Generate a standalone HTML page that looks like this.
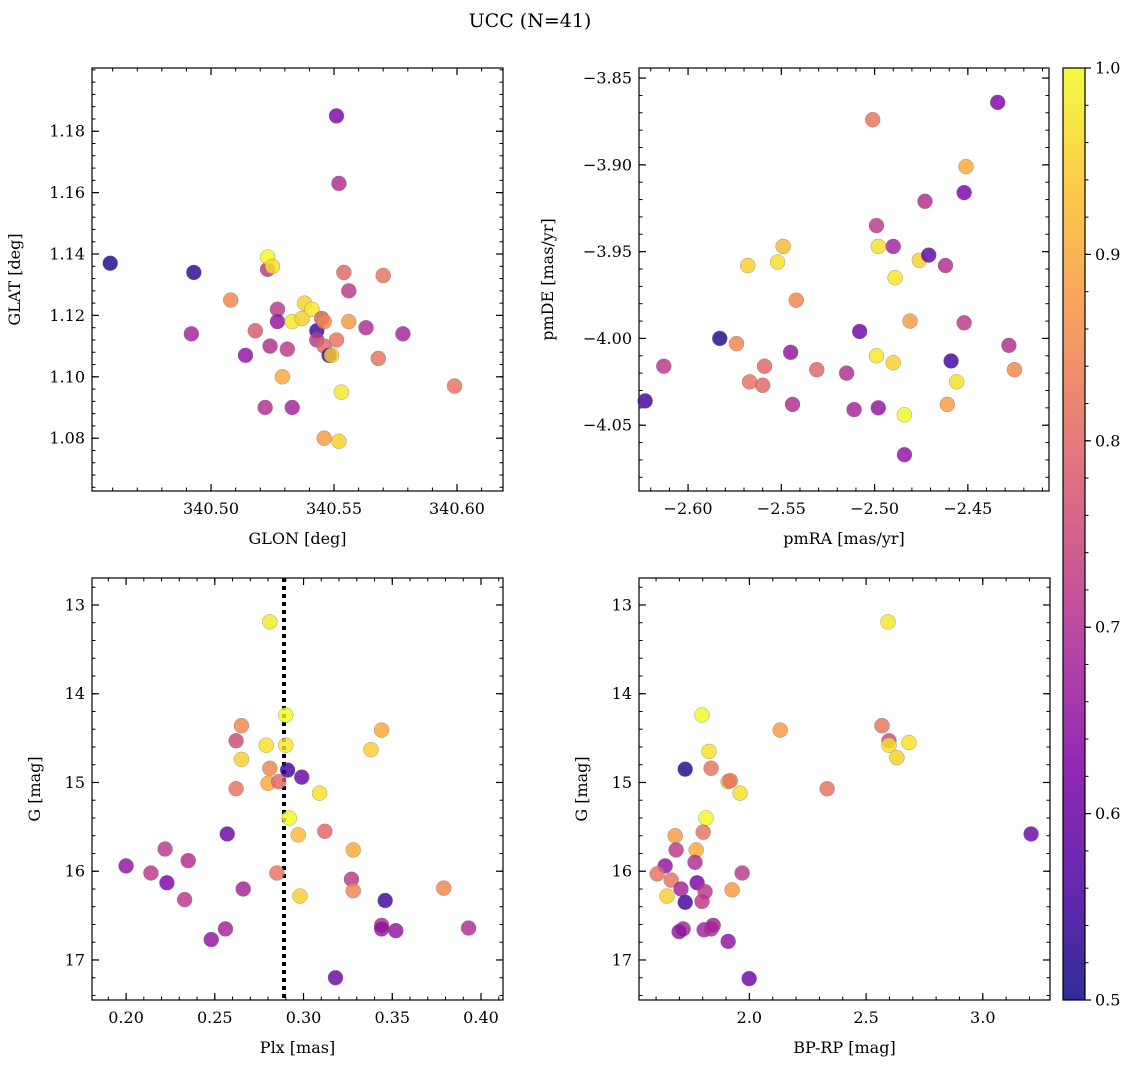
<!DOCTYPE html>
<html><head><meta charset="utf-8">
<style>
body{margin:0;background:#fff;}
svg{display:block;font-family:"DejaVu Serif","Liberation Serif",serif;}
</style></head>
<body>
<svg id="fig" width="1135" height="1068" viewBox="0 0 1135 1068" xmlns="http://www.w3.org/2000/svg">
<text x="530" y="27" font-size="19" text-anchor="middle">UCC (N=41)</text>
<defs><linearGradient id="cbgrad" x1="0" y1="1" x2="0" y2="0">
<stop offset="0" stop-color="#0d0887"/><stop offset="0.125" stop-color="#4c02a1"/><stop offset="0.25" stop-color="#7e03a8"/><stop offset="0.375" stop-color="#a92395"/><stop offset="0.5" stop-color="#cc4778"/><stop offset="0.625" stop-color="#e56b5d"/><stop offset="0.75" stop-color="#f89540"/><stop offset="0.875" stop-color="#fdc328"/><stop offset="1" stop-color="#f0f921"/></linearGradient></defs>
</svg>
<script>
// Panel 1: GLON vs GLAT
const glon=[340.459,340.493,340.492,340.508,340.514,340.518,340.522,340.523,340.523,340.525,340.524,340.527,340.527,340.529,340.531,340.533,340.533,340.537,340.538,340.541,340.543,340.543,340.545,340.546,340.546,340.548,340.549,340.546,340.551,340.552,340.551,340.552,340.553,340.554,340.556,340.556,340.563,340.568,340.570,340.578,340.599];
const glat=[1.137,1.134,1.114,1.125,1.107,1.115,1.090,1.135,1.139,1.136,1.110,1.122,1.118,1.100,1.109,1.090,1.118,1.119,1.124,1.122,1.115,1.112,1.119,1.118,1.110,1.107,1.107,1.080,1.185,1.079,1.112,1.163,1.095,1.134,1.128,1.118,1.116,1.106,1.133,1.114,1.097];
const prob1=[0.52,0.53,0.68,0.85,0.65,0.78,0.7,0.72,1.0,0.97,0.7,0.72,0.65,0.9,0.72,0.68,0.98,0.95,0.95,0.98,0.55,0.72,0.78,0.85,0.8,0.55,0.95,0.88,0.62,0.95,0.82,0.7,0.98,0.8,0.72,0.88,0.7,0.82,0.82,0.68,0.82];
// Panel 2: pmRA vs pmDE
const pmra=[-2.623,-2.613,-2.583,-2.574,-2.568,-2.567,-2.560,-2.559,-2.552,-2.549,-2.545,-2.544,-2.542,-2.531,-2.515,-2.511,-2.508,-2.501,-2.499,-2.498,-2.499,-2.498,-2.490,-2.490,-2.489,-2.484,-2.484,-2.481,-2.476,-2.473,-2.471,-2.462,-2.461,-2.459,-2.456,-2.452,-2.452,-2.451,-2.434,-2.428,-2.425];
const pmde=[-4.036,-4.016,-4.000,-4.003,-3.958,-4.025,-4.027,-4.016,-3.956,-3.947,-4.008,-4.038,-3.978,-4.018,-4.020,-4.041,-3.996,-3.874,-3.935,-3.947,-4.010,-4.040,-3.947,-4.014,-3.965,-4.044,-4.067,-3.990,-3.955,-3.921,-3.952,-3.958,-4.038,-4.013,-4.025,-3.916,-3.991,-3.901,-3.864,-4.004,-4.018];
const prob2=[0.55,0.72,0.52,0.85,0.95,0.82,0.8,0.8,0.97,0.92,0.65,0.7,0.85,0.8,0.7,0.68,0.6,0.82,0.72,0.97,0.98,0.65,0.68,0.95,0.98,1.0,0.65,0.88,0.95,0.7,0.58,0.7,0.88,0.55,0.97,0.62,0.72,0.9,0.62,0.7,0.85];
// Panel 3: Plx vs G
const plx=[0.200,0.214,0.222,0.223,0.233,0.235,0.248,0.256,0.257,0.262,0.262,0.265,0.265,0.266,0.280,0.279,0.281,0.281,0.285,0.286,0.290,0.290,0.291,0.292,0.297,0.298,0.299,0.309,0.312,0.318,0.327,0.328,0.328,0.338,0.344,0.344,0.344,0.346,0.352,0.379,0.393];
const gmag3=[15.94,16.02,15.75,16.13,16.32,15.88,16.77,16.65,15.58,14.53,15.07,14.36,14.74,16.20,15.01,14.58,13.19,14.84,16.02,14.99,14.24,14.58,14.86,15.40,15.59,16.28,14.94,15.12,15.55,17.20,16.09,16.22,15.76,14.63,14.41,16.61,16.65,16.33,16.67,16.19,16.64];
const prob3=[0.65,0.72,0.72,0.62,0.72,0.7,0.65,0.68,0.6,0.75,0.82,0.85,0.95,0.68,0.9,0.97,0.98,0.85,0.82,0.8,1.0,0.98,0.55,1.0,0.92,0.95,0.6,0.97,0.8,0.6,0.72,0.85,0.9,0.95,0.9,0.7,0.65,0.55,0.65,0.85,0.7];
const plxMean=[0.289];
// Panel 4: BP-RP vs G
const bprp=[1.797,1.827,1.725,1.836,1.909,1.918,1.960,1.814,1.802,1.682,1.686,1.772,1.767,1.639,1.605,1.665,1.776,1.969,1.707,1.810,1.926,1.647,1.725,1.797,1.716,1.699,1.806,1.836,1.845,1.909,1.999,2.132,2.333,2.568,2.598,2.594,2.598,2.632,2.684,3.207];
const gmag4=[14.24,14.65,14.85,14.84,14.99,14.98,15.12,15.40,15.56,15.60,15.76,15.76,15.90,15.94,16.03,16.10,16.13,16.02,16.20,16.23,16.21,16.28,16.35,16.34,16.65,16.68,16.66,16.65,16.61,16.79,17.21,14.41,15.07,14.36,14.53,13.19,14.58,14.72,14.55,15.58];
const prob4=[1.0,0.97,0.52,0.82,0.9,0.82,0.97,1.0,0.82,0.88,0.72,0.9,0.7,0.65,0.82,0.82,0.62,0.72,0.68,0.72,0.88,0.95,0.55,0.72,0.68,0.65,0.68,0.7,0.68,0.65,0.6,0.88,0.82,0.82,0.75,0.98,0.97,0.95,0.97,0.6];
const cbTicks=[0.5,0.6,0.7,0.8,0.9,1.0];

const NS='http://www.w3.org/2000/svg';
const svg=document.getElementById('fig');
function mk(tag,attrs,parent){const e=document.createElementNS(NS,tag);for(const k in attrs)e.setAttribute(k,attrs[k]);(parent||svg).appendChild(e);return e;}
const stops=[[0,[13,8,135]],[0.125,[76,2,161]],[0.25,[126,3,168]],[0.375,[169,35,149]],[0.5,[204,71,120]],[0.625,[229,107,93]],[0.75,[248,149,64]],[0.875,[253,195,40]],[1,[240,249,33]]];
function plasma(v){let t=(v-0.5)/0.5;t=Math.max(0,Math.min(1,t));for(let i=0;i<stops.length-1;i++){const a=stops[i],b=stops[i+1];if(t<=b[0]){const f=(t-a[0])/(b[0]-a[0]);return 'rgb('+a[1].map((c,j)=>Math.round(c+(b[1][j]-c)*f)).join(',')+')';}}return 'rgb(240,249,33)';}

function panel(o){
  const g=mk('g',{});
  
  
  const sx=v=>o.x0+(v-o.xl[0])/(o.xl[1]-o.xl[0])*(o.x1-o.x0);
  const sy=o.invertY ? (v=>o.y0+(v-o.yl[0])/(o.yl[1]-o.yl[0])*(o.y1-o.y0)) : (v=>o.y0+(o.yl[1]-v)/(o.yl[1]-o.yl[0])*(o.y1-o.y0));
  const frame=mk('rect',{x:o.x0,y:o.y0,width:o.x1-o.x0,height:o.y1-o.y0,fill:'none',stroke:'#000','stroke-width':1.2},g);
  
  
  for(let v=Math.ceil(o.xl[0]/o.xmin-1e-9)*o.xmin;v<=o.xl[1]+1e-9;v+=o.xmin){const X=sx(v);mk('line',{x1:X,x2:X,y1:o.y1,y2:o.y1-3.5,stroke:'#000'},g);mk('line',{x1:X,x2:X,y1:o.y0,y2:o.y0+3.5,stroke:'#000'},g);}
  for(let v=Math.ceil(o.yl[0]/o.ymin-1e-9)*o.ymin;v<=o.yl[1]+1e-9;v+=o.ymin){const Y=sy(v);mk('line',{x1:o.x0,x2:o.x0+3.5,y1:Y,y2:Y,stroke:'#000'},g);mk('line',{x1:o.x1,x2:o.x1-3.5,y1:Y,y2:Y,stroke:'#000'},g);}
  o.xt.forEach((v,i)=>{const X=sx(v);mk('line',{x1:X,x2:X,y1:o.y1,y2:o.y1-7,stroke:'#000','stroke-width':1.2},g);mk('line',{x1:X,x2:X,y1:o.y0,y2:o.y0+7,stroke:'#000','stroke-width':1.2},g);
    const t=mk('text',{x:X,y:o.y1+23,'font-size':16,'text-anchor':'middle'},g);t.textContent=o.xtl[i];
    
    });
  o.yt.forEach((v,i)=>{const Y=sy(v);mk('line',{x1:o.x0,x2:o.x0+7,y1:Y,y2:Y,stroke:'#000','stroke-width':1.2},g);mk('line',{x1:o.x1,x2:o.x1-7,y1:Y,y2:Y,stroke:'#000','stroke-width':1.2},g);
    const t=mk('text',{x:o.x0-7,y:Y+5.5,'font-size':16,'text-anchor':'end'},g);t.textContent=o.ytl[i];
    
    });
  const xl=mk('text',{x:(o.x0+o.x1)/2,y:o.y1+53,'font-size':16,'text-anchor':'middle'},g);xl.textContent=o.xlab;
  
  
  const yx=o.ylx, yy=(o.y0+o.y1)/2;
  const yl=mk('text',{x:yx,y:yy,'font-size':16,'text-anchor':'middle',transform:'rotate(-90 '+yx+' '+yy+')'},g);yl.textContent=o.ylab;
  
  
  if(o.vline){const X=sx(o.vline[0]);const l=mk('line',{x1:X,x2:X,y1:o.y0,y2:o.y1,stroke:'#000','stroke-width':4,'stroke-dasharray':'4 4'},g);
    
    }
  o.xs.forEach((v,i)=>{const c=mk('circle',{cx:sx(v),cy:sy(o.ys[i]),r:7.5,fill:plasma(o.cs[i]),'fill-opacity':0.82,stroke:'#777','stroke-width':0.5,'stroke-opacity':0.7},g);
    
    });
}
panel({name:'glon-glat-panel',x0:92,x1:503,y0:68,y1:491,xl:[340.4516,340.6187],yl:[1.0628,1.2006],xmin:0.01,ymin:0.004,
  xt:[340.50,340.55,340.60],xtl:['340.50','340.55','340.60'],yt:[1.08,1.10,1.12,1.14,1.16,1.18],ytl:['1.08','1.10','1.12','1.14','1.16','1.18'],
  xlab:'GLON [deg]',ylab:'GLAT [deg]',ylx:20,xs:glon,ys:glat,cs:prob1});
panel({name:'pm-panel',x0:639,x1:1049,y0:68,y1:491,xl:[-2.6263,-2.4065],yl:[-4.0879,-3.8442],xmin:0.01,ymin:0.01,
  xt:[-2.60,-2.55,-2.50,-2.45],xtl:['−2.60','−2.55','−2.50','−2.45'],yt:[-4.05,-4.00,-3.95,-3.90,-3.85],ytl:['−4.05','−4.00','−3.95','−3.90','−3.85'],
  xlab:'pmRA [mas/yr]',ylab:'pmDE [mas/yr]',ylx:553,xs:pmra,ys:pmde,cs:prob2});
panel({name:'plx-g-panel',x0:92,x1:503,y0:578,y1:1000,xl:[0.1808,0.4124],yl:[12.696,17.451],invertY:true,xmin:0.01,ymin:0.2,
  xt:[0.20,0.25,0.30,0.35,0.40],xtl:['0.20','0.25','0.30','0.35','0.40'],yt:[13,14,15,16,17],ytl:['13','14','15','16','17'],
  xlab:'Plx [mas]',ylab:'G [mag]',ylx:40,xs:plx,ys:gmag3,cs:prob3,vline:plxMean});
panel({name:'cmd-panel',x0:639,x1:1050,y0:578,y1:1000,xl:[1.527,3.288],yl:[12.696,17.451],invertY:true,xmin:0.1,ymin:0.2,
  xt:[2.0,2.5,3.0],xtl:['2.0','2.5','3.0'],yt:[13,14,15,16,17],ytl:['13','14','15','16','17'],
  xlab:'BP-RP [mag]',ylab:'G [mag]',ylx:587,xs:bprp,ys:gmag4,cs:prob4});
// colorbar
const cb=mk('g',{});


mk('rect',{x:1063,y:68,width:22,height:932,fill:'url(#cbgrad)','fill-opacity':0.85,stroke:'#000','stroke-width':1.2},cb);
const cy=v=>1000-(v-0.5)/0.5*932;
for(let v=0.5;v<=1.0001;v+=0.02){mk('line',{x1:1085,x2:1088.5,y1:cy(v),y2:cy(v),stroke:'#000'},cb);}
cbTicks.forEach(v=>{mk('line',{x1:1085,x2:1091,y1:cy(v),y2:cy(v),stroke:'#000','stroke-width':1.2},cb);
  const t=mk('text',{x:1095,y:cy(v)+5.5,'font-size':16},cb);t.textContent=v.toFixed(1);
  
  });
</script>
</body></html>
